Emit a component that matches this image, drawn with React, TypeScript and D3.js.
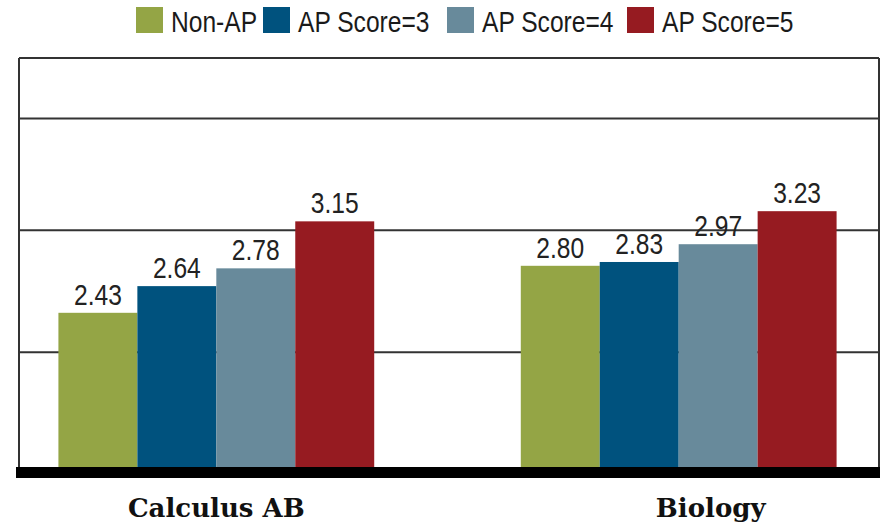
import React from "react";
import * as d3 from "d3";

const categories = ["Calculus AB", "Biology"];
const series = ["Non-AP", "AP Score=3", "AP Score=4", "AP Score=5"];
const nonAP = [2.43, 2.8];
const ap3 = [2.64, 2.83];
const ap4 = [2.78, 2.97];
const ap5 = [3.15, 3.23];
const gridValues = [2.12, 3.08, 3.96];
const colors = ["#94a545", "#00527e", "#688a9b", "#961b21"];

const W = 880;
const H = 522;
const plotLeft = 19;
const plotRight = 879;
const plotTop = 58;
const plotBottom = 467;
const sans = "'Liberation Sans', Arial, sans-serif";
const squeeze = 0.82;
const legendX = [136, 263, 447, 627];
const labelShift = [0, 32];

export default function App() {
  const values = [nonAP, ap3, ap4, ap5];
  const x0 = d3
    .scaleBand<string>()
    .domain(categories)
    .range([17.5, 877.5])
    .paddingInner(0.317)
    .paddingOuter(0.0885);
  const x1 = d3
    .scaleBand<string>()
    .domain(series)
    .range([0, x0.bandwidth()])
    .padding(0);
  const y = d3.scaleLinear().domain([1.216, 4.436]).range([plotBottom, plotTop]);

  return (
    <svg width={W} height={H} style={{ display: "block", position: "absolute", left: 0, top: 0 }}>
      <rect x={0} y={0} width={W} height={H} fill="#fff" />
      {/* legend */}
      {series.map((s, i) => (
        <g key={s}>
          <rect x={legendX[i]} y={7} width={27} height={26} fill={colors[i]} />
          <text
            transform={`translate(${legendX[i] + 35},32) scale(${squeeze},1)`}
            fontFamily={sans}
            fontSize={30}
            fill="#1a1a1a"
          >
            {s}
          </text>
        </g>
      ))}
      {/* grid */}
      {gridValues.map((g) => (
        <line key={g} x1={plotLeft} x2={plotRight} y1={y(g)} y2={y(g)} stroke="#333" strokeWidth={2} />
      ))}
      <line x1={plotLeft} x2={plotRight} y1={plotTop} y2={plotTop} stroke="#333" strokeWidth={2} />
      <line x1={plotLeft} x2={plotLeft} y1={plotTop} y2={plotBottom} stroke="#333" strokeWidth={2} />
      <line x1={plotRight} x2={plotRight} y1={plotTop} y2={plotBottom} stroke="#333" strokeWidth={2} />
      {/* bars */}
      {categories.map((c, ci) => (
        <g key={c} transform={`translate(${x0(c)},0)`}>
          {series.map((s, si) => {
            const v = values[si][ci];
            const bx = x1(s) as number;
            return (
              <g key={s}>
                <rect
                  x={bx}
                  y={y(v)}
                  width={x1.bandwidth()}
                  height={plotBottom - y(v)}
                  fill={colors[si]}
                />
                <text
                  transform={`translate(${bx + x1.bandwidth() / 2},${y(v) - 8}) scale(${squeeze},1)`}
                  textAnchor="middle"
                  fontFamily={sans}
                  fontSize={30}
                  fill="#222"
                >
                  {v.toFixed(2)}
                </text>
              </g>
            );
          })}
        </g>
      ))}
      {/* baseline */}
      <rect x={16} y={plotBottom} width={W - 16} height={11} fill="#000" />
      {/* category labels */}
      {categories.map((c, ci) => (
        <text
          key={c}
          x={(x0(c) as number) + x0.bandwidth() / 2 + labelShift[ci]}
          y={517}
          textAnchor="middle"
          fontFamily="'DejaVu Serif', serif"
          fontWeight="bold"
          fontSize={26}
          fill="#111"
        >
          {c}
        </text>
      ))}
    </svg>
  );
}
